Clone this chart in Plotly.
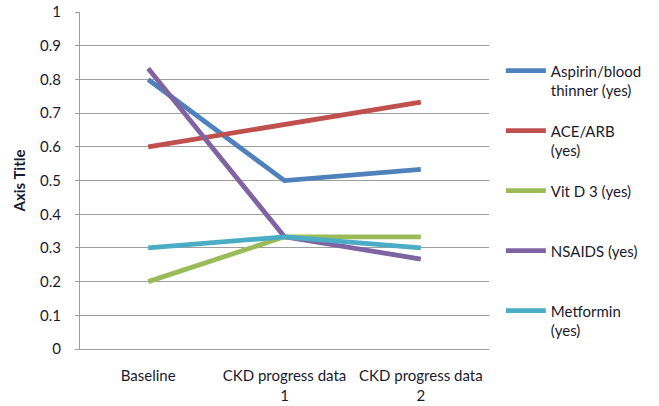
import plotly.graph_objects as go

# Categories along the x axis
categories = ["Baseline", "CKD progress data<br>1", "CKD progress data<br>2"]

# Share of patients per medication at each stage
aspirin = [0.8, 0.5, 0.533]
ace_arb = [0.6, 0.667, 0.733]
vit_d3 = [0.2, 0.333, 0.333]
nsaids = [0.833, 0.333, 0.267]
metformin = [0.3, 0.333, 0.3]

series_names = [
    "Aspirin/blood<br>thinner (yes)",
    "ACE/ARB<br>(yes)",
    "Vit D 3 (yes)<br> ",
    "NSAIDS (yes)<br> ",
    "Metformin<br>(yes)",
]
series_values = [aspirin, ace_arb, vit_d3, nsaids, metformin]
series_colors = ["#4F81BD", "#C0504D", "#9BBB59", "#8064A2", "#4BACC6"]

y_ticks = [0, 0.1, 0.2, 0.3, 0.4, 0.5, 0.6, 0.7, 0.8, 0.9, 1]

FONT = "Lato"
TEXT_COLOR = "#1a1a2e"
GRID = "#9E9E9E"

fig = go.Figure()
for i, (name, vals, col) in enumerate(zip(series_names, series_values, series_colors)):
    fig.add_trace(go.Scatter(
        x=categories, y=vals, name=name, mode="lines",
        line=dict(color=col, width=4.8),
        legendgroup=f"g{i}",
    ))

fig.update_layout(
    width=659, height=406,
    margin=dict(l=80, r=161, t=12, b=57),
    paper_bgcolor="white", plot_bgcolor="white",
    font=dict(family=FONT, size=15, color=TEXT_COLOR),
    showlegend=True,
    legend=dict(
        x=1.029, xanchor="left", y=0.874, yanchor="top",
        valign="top", tracegroupgap=18,
        font=dict(family=FONT, size=15, color=TEXT_COLOR),
        itemwidth=40, bgcolor="rgba(0,0,0,0)",
    ),
    xaxis=dict(
        type="category", range=[-0.5, 2.5], showgrid=False, zeroline=False,
        showline=True, linecolor=GRID, linewidth=1, automargin=False,
        ticks="outside", ticklen=13, tickcolor="rgba(0,0,0,0)", tickangle=0,
        tickfont=dict(family=FONT, size=15, color=TEXT_COLOR),
    ),
    yaxis=dict(
        range=[0, 1.0005], tickvals=y_ticks,
        ticktext=[f"{v:g}" for v in y_ticks],
        showgrid=True, gridcolor=GRID, gridwidth=1, automargin=False,
        zeroline=False, showline=True, linecolor=GRID, linewidth=1,
        ticks="outside", ticklen=4, tickcolor=GRID,
        ticklabelstandoff=11,
        tickfont=dict(family=FONT, size=15, color=TEXT_COLOR),
        title=dict(text="<b>Axis Title</b>", standoff=10,
                   font=dict(family=FONT, size=15, color=TEXT_COLOR)),
    ),
)

fig.write_html("out.html")
